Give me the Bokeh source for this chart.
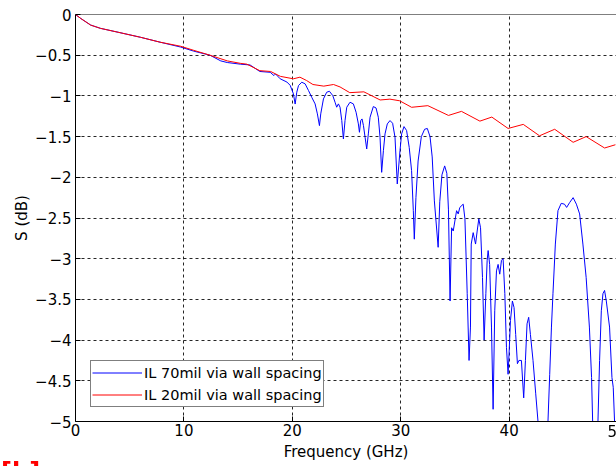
from bokeh.plotting import figure
from bokeh.models import Range1d, FixedTicker, Legend, LegendItem, Span, Div
from bokeh.layouts import column
from bokeh.embed import file_html
from bokeh.resources import INLINE

# Insertion loss, 20 mil via wall spacing (GHz, dB)
freq_20mil = [0, 0.5, 1.4, 2.3, 4, 6, 7.8, 9.7, 10.9, 12.4, 14.0, 15.2, 15.8, 17.0,
              18.0, 18.9, 20.1, 20.7, 21.3, 21.9, 22.9, 23.8, 24.4, 25.3, 26.6, 28.1,
              29.0, 29.9, 31.0, 32.5, 34.4, 35.6, 37.3, 38.4, 39.9, 41.3, 42.8, 44.2,
              45.9, 47.1, 48.8, 49.8]
il_20mil = [0, -0.05, -0.13, -0.17, -0.22, -0.28, -0.34, -0.39, -0.44, -0.50, -0.57,
            -0.60, -0.61, -0.69, -0.70, -0.76, -0.79, -0.77, -0.81, -0.86, -0.88, -0.86,
            -0.89, -0.96, -0.95, -1.05, -1.04, -1.06, -1.14, -1.12, -1.24, -1.19, -1.31,
            -1.26, -1.40, -1.35, -1.49, -1.41, -1.57, -1.50, -1.64, -1.60]

# Insertion loss, 70 mil via wall spacing (GHz, dB)
freq_70mil = [0, 0.5, 1.4, 2.3, 4, 6, 7.8, 9.7, 10.9, 12.4, 13.4, 14.0, 15.2, 16.1,
              17.0, 17.96, 18.3, 18.45, 18.88, 19.5, 19.8, 20.1, 20.26, 20.41, 20.57,
              20.87, 21.18, 21.49, 21.79, 22.10, 22.31, 22.50, 22.62, 22.87, 23.17,
              23.42, 23.73, 23.94, 24.09, 24.25, 24.40, 24.56, 24.71, 24.86, 25.02,
              25.32, 25.63, 25.88, 26.09, 26.19, 26.31, 26.43, 26.56, 26.71, 26.86,
              27.01, 27.17, 27.47, 27.72, 27.93, 28.09, 28.24, 28.40, 28.55, 28.76,
              29.01, 29.25, 29.47, 29.68, 29.93, 30.08, 30.30, 30.54, 30.78, 31.0,
              31.16, 31.25, 31.4, 31.6, 31.9, 32.2, 32.45, 32.7, 32.9, 33.1, 33.45,
              33.6, 33.8, 34.05, 34.25, 34.4, 34.55, 34.69, 34.84, 35.15, 35.3, 35.45,
              35.76, 35.92, 36.13, 36.3, 36.43, 36.5, 36.68, 36.9, 37.05, 37.2, 37.36,
              37.54, 37.69, 37.85, 37.97, 38.06, 38.2, 38.37, 38.52, 38.67, 38.83,
              38.98, 39.13, 39.29, 39.44, 39.6, 39.75, 39.9, 39.99, 40.12, 40.3, 40.45,
              40.6, 40.76, 40.9, 41.13, 41.34, 41.5, 41.65, 41.8, 41.96, 42.2, 42.45,
              42.66, 43.1, 43.58, 43.74, 43.9, 44.04, 44.26, 44.5, 44.8, 45.1, 45.3,
              45.58, 45.9, 46.2, 46.5, 46.8, 47.1, 47.4, 47.6, 47.7, 48.0, 48.19, 48.34,
              48.5, 48.65, 48.8, 48.96, 49.26, 49.48, 49.6, 49.72, 49.85]
il_70mil = [0, -0.05, -0.13, -0.17, -0.22, -0.28, -0.34, -0.40, -0.45, -0.50, -0.57,
            -0.59, -0.61, -0.62, -0.70, -0.71, -0.75, -0.73, -0.79, -0.83, -0.87, -0.975,
            -1.10, -0.955, -0.873, -0.832, -0.852, -0.934, -1.017, -1.098, -1.221,
            -1.365, -1.221, -1.037, -0.955, -0.943, -0.996, -1.078, -1.139, -1.098,
            -1.139, -1.303, -1.529, -1.303, -1.139, -1.078, -1.098, -1.201, -1.344,
            -1.447, -1.303, -1.283, -1.365, -1.508, -1.652, -1.467, -1.262, -1.131,
            -1.148, -1.262, -1.508, -1.939, -1.672, -1.467, -1.344, -1.303, -1.336,
            -1.508, -2.082, -1.672, -1.467, -1.377, -1.426, -1.632, -1.918, -2.41, -2.76,
            -2.25, -1.80, -1.50, -1.41, -1.40, -1.50, -1.75, -2.29, -2.86, -2.30, -1.97,
            -1.86, -1.95, -2.40, -3.52, -2.62, -2.66, -2.41, -2.45, -2.37, -2.33, -2.51,
            -3.43, -4.25, -3.84, -2.82, -2.68, -2.82, -2.66, -2.51, -2.62, -3.23, -4.00,
            -3.43, -3.02, -2.90, -3.07, -3.84, -4.85, -3.64, -3.15, -3.07, -3.19, -3.02,
            -3.00, -3.43, -4.09, -4.42, -4.17, -3.76, -3.52, -3.60, -3.93, -4.29, -4.25,
            -4.25, -4.71, -4.25, -3.80, -3.72, -3.93, -4.25, -4.66, -5.00, -5.60, -5.00,
            -4.42, -3.84, -3.43, -2.82, -2.41, -2.32, -2.33, -2.37, -2.31, -2.25, -2.33,
            -2.45, -2.82, -3.23, -3.84, -4.46, -5.00, -5.50, -5.00, -4.25, -3.64, -3.43,
            -3.39, -3.52, -3.84, -4.46, -4.58, -5.00, -5.30]

x_ticks = [0, 10, 20, 30, 40]
x_last_tick = 50
y_ticks = [0, -0.5, -1, -1.5, -2, -2.5, -3, -3.5, -4, -4.5, -5]
y_tick_labels = ["0", "\u22120.5", "\u22121", "\u22121.5", "\u22122", "\u22122.5",
                 "\u22123", "\u22123.5", "\u22124", "\u22124.5", "\u22125"]
caption = "[b]"

FONT = "DejaVu Sans"
FS = "15px"

X_END = 49.9
W, H = 616, 466
LEFT, TOP, BOTTOM = 75, 14, 45

p = figure(width=W, height=H, output_backend="svg", toolbar_location=None,
           x_range=Range1d(0, X_END), y_range=Range1d(-5, 0),
           min_border_left=LEFT, min_border_right=0, min_border_top=TOP,
           min_border_bottom=BOTTOM, background_fill_color="white",
           border_fill_color="white", outline_line_color=None)

for ax in (p.xaxis[0], p.yaxis[0]):
    ax.axis_line_color = "black"
    ax.major_tick_in = 5
    ax.major_tick_out = 0
    ax.minor_tick_line_color = None
    ax.major_tick_line_color = "black"
    ax.major_label_text_font = FONT
    ax.major_label_text_font_size = FS
    ax.major_label_text_color = "black"
    ax.axis_label_text_font = FONT
    ax.axis_label_text_font_size = FS
    ax.axis_label_text_font_style = "normal"
    ax.axis_label_text_color = "black"

p.xaxis.ticker = FixedTicker(ticks=x_ticks)
p.yaxis.ticker = FixedTicker(ticks=y_ticks)
p.yaxis.major_label_overrides = {t: s for t, s in zip(y_ticks, y_tick_labels)}
p.xaxis.axis_label = "Frequency (GHz)"
p.yaxis.axis_label = "S (dB)"
p.xaxis.major_label_standoff = 2
p.xaxis.axis_label_standoff = 4
p.yaxis.major_label_standoff = 4
p.yaxis.axis_label_standoff = 1

# top edge of the axes box
p.add_layout(Span(location=0, dimension="width", line_color="black", line_width=1))

p.grid.grid_line_color = "black"
p.grid.grid_line_dash = "3 3"
p.grid.grid_line_alpha = 0.85
p.xgrid.ticker = FixedTicker(ticks=x_ticks)
p.ygrid.ticker = FixedTicker(ticks=y_ticks)

r70 = p.line(freq_70mil, il_70mil, line_color="#0000ff", line_width=1)
r20 = p.line(freq_20mil, il_20mil, line_color="#ff0000", line_width=1)

legend = Legend(items=[LegendItem(label="IL 70mil via wall spacing", renderers=[r70]),
                       LegendItem(label="IL 20mil via wall spacing", renderers=[r20])],
                location=(15, 14), orientation="vertical",
                label_text_font=FONT, label_text_font_size="14.5px",
                label_text_color="black", glyph_width=50, glyph_height=21,
                label_standoff=2, label_height=21, spacing=1, padding=1,
                margin=0, border_line_color="black", border_line_width=1,
                background_fill_alpha=1.0)
p.add_layout(legend, "center")

# the 50 GHz tick label sits half outside the page, and the caption under the
# chart is mostly cut by the page bottom; both are placed as HTML text
px_per_ghz = (W - LEFT) / X_END
x50 = LEFT + x_last_tick * px_per_ghz
overlay = (
    '<div style="position:fixed;left:0;top:0;width:%dpx;height:%dpx;overflow:hidden;'
    'pointer-events:none;z-index:10;">'
    '<span style="position:absolute;left:%.1fpx;top:%dpx;width:100px;text-align:center;'
    'font-family:\'DejaVu Sans\';font-size:15px;line-height:normal;color:black;'
    'white-space:nowrap;">%d</span>'
    '<span style="position:absolute;left:1px;top:460px;font-family:\'DejaVu Sans\';'
    'font-weight:bold;font-size:24px;line-height:24px;color:red;white-space:nowrap;">%s</span>'
    '</div>' % (W, H, x50 - 50, H - BOTTOM + 2, x_last_tick, caption)
)
div = Div(text=overlay, width=0, height=0, margin=0)

open("out.html", "w").write(file_html(column(div, p, spacing=0), INLINE))
